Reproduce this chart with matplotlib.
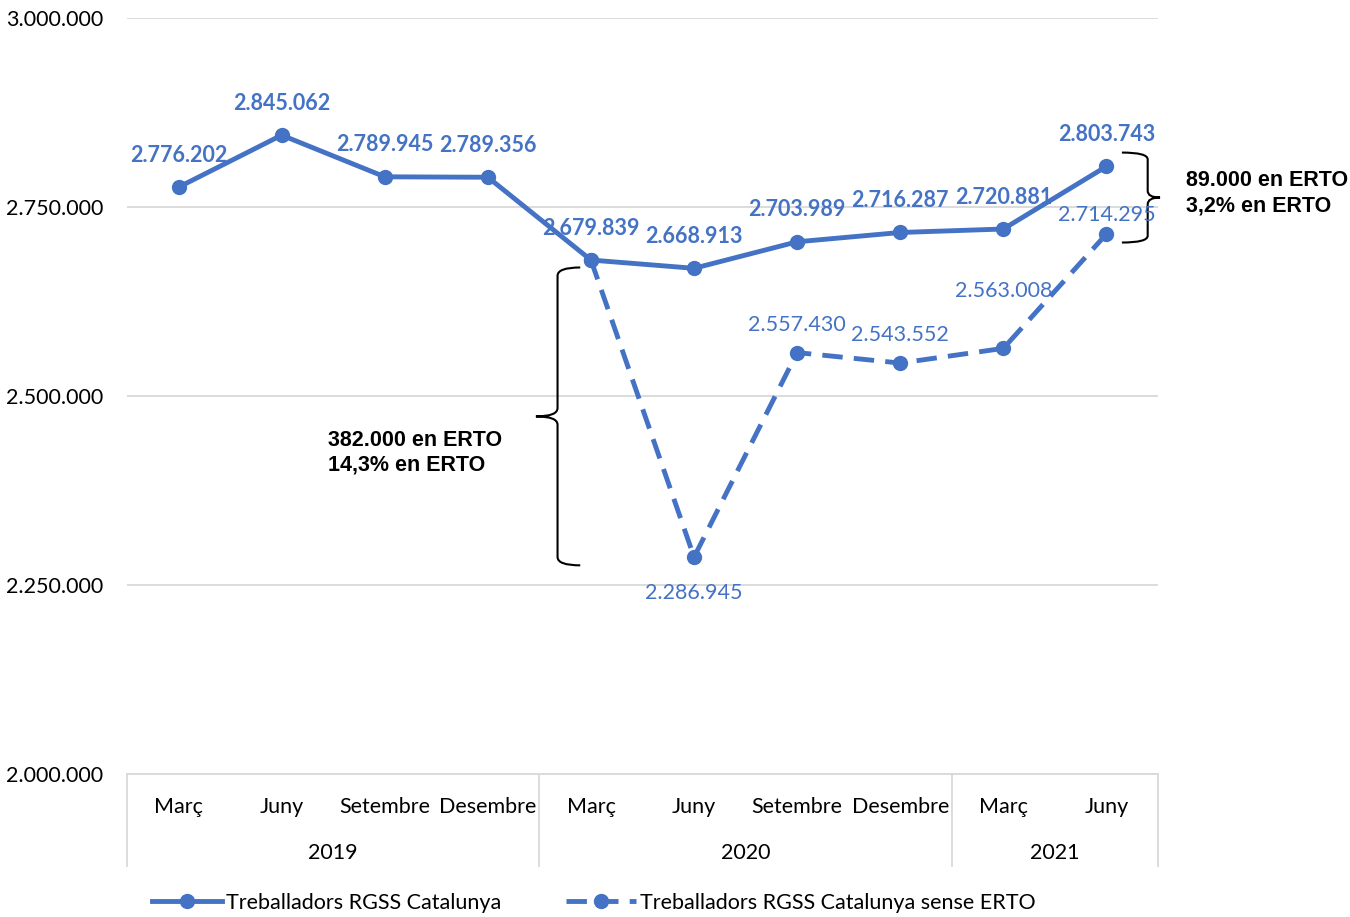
import matplotlib.pyplot as plt
from matplotlib.path import Path
from matplotlib.patches import PathPatch

plt.rcParams['font.family'] = ['Lato', 'DejaVu Sans']

# dades
mesos = ['Març', 'Juny', 'Setembre', 'Desembre', 'Març', 'Juny', 'Setembre', 'Desembre', 'Març', 'Juny']
anys = ['2019', '2020', '2021']
mesos_per_any = [4, 4, 2]
treballadors = [2776202, 2845062, 2789945, 2789356, 2679839, 2668913, 2703989, 2716287, 2720881, 2803743]
sense_erto_x = [4, 5, 6, 7, 8, 9]
sense_erto = [2679839, 2286945, 2557430, 2543552, 2563008, 2714295]

blau = '#4472C4'
gris = '#D9D9D9'
fs = 15.5


def fmt(v):
    return f'{v:,}'.replace(',', '.')


fig = plt.figure(figsize=(13.5, 9.17), dpi=100)
ax = fig.add_axes([127 / 1350, 1 - 774 / 917, (1158 - 127) / 1350, (774 - 18) / 917])

x = list(range(len(mesos)))
ax.plot(x, treballadors, color=blau, lw=3.5, marker='o', ms=10,
        label='Treballadors RGSS Catalunya', zorder=4)
ax.plot(sense_erto_x, sense_erto, color=blau, lw=3.5, ls=(0, (4.2, 2.3)), marker='o', ms=10,
        label='Treballadors RGSS Catalunya sense ERTO', zorder=3)

# etiquetes de dades
for xi, v in zip(x, treballadors):
    ax.annotate(fmt(v), (xi, v), xytext=(0, 23), textcoords='offset points',
                ha='center', va='center', color=blau, fontsize=fs, fontweight='bold', zorder=5)
desp = [None, -26, 20, 20, 41, 14]
for xi, v, d in zip(sense_erto_x, sense_erto, desp):
    if d is None:
        continue
    ax.annotate(fmt(v), (xi, v), xytext=(0, d), textcoords='offset points',
                ha='center', va='center', color=blau, fontsize=fs, zorder=5)

ax.set_xlim(-0.5, 9.5)
ax.set_ylim(2000000, 3000000)
ax.set_yticks([2000000, 2250000, 2500000, 2750000, 3000000])
ax.set_yticklabels([fmt(v) for v in ax.get_yticks().astype(int)], fontsize=fs)
ax.tick_params(axis='y', length=0, pad=17)
ax.grid(axis='y', color=gris, lw=1.3)
ax.set_axisbelow(True)
for s in ['top', 'right', 'left']:
    ax.spines[s].set_visible(False)
ax.spines['bottom'].set_color(gris)
ax.spines['bottom'].set_linewidth(1.3)

# eix de categories en dos nivells
ax.set_xticks([])
tr = ax.get_xaxis_transform()
for xi, m in zip(x, mesos):
    ax.text(xi, -0.0436, m, transform=tr, ha='center', va='center', fontsize=fs)
inici = 0
limits = [-0.5]
for a, n in zip(anys, mesos_per_any):
    ax.text(inici + (n - 1) / 2, -0.1045, a, transform=tr, ha='center', va='center', fontsize=fs)
    inici += n
    limits.append(inici - 0.5)
for b in limits:
    ax.plot([b, b], [0, -0.1217], transform=tr, color=gris, lw=1.3, clip_on=False)


# claus
def clau(ax, xc, y0, y1, w, punta, r, dreta=True, **kw):
    # xc: línia vertical; w: amplada de les puntes; punta: sortida central; r: radi de les corbes
    s = 1 if dreta else -1
    ym = (y0 + y1) / 2
    verts = [(xc + s * w, y1), (xc, y1), (xc, y1 - r),
             (xc, ym + r), (xc, ym), (xc - s * punta, ym),
             (xc, ym), (xc, ym - r),
             (xc, y0 + r), (xc, y0), (xc + s * w, y0)]
    codes = [Path.MOVETO, Path.CURVE3, Path.CURVE3,
             Path.LINETO, Path.CURVE3, Path.CURVE3,
             Path.CURVE3, Path.CURVE3,
             Path.LINETO, Path.CURVE3, Path.CURVE3]
    ax.add_patch(PathPatch(Path(verts, codes), fill=False, clip_on=False, **kw))


clau(ax, 3.676, 2276000, 2670000, 0.22, 0.21, 11000, dreta=True, color='black', lw=1.5)
clau(ax, 9.4, 2703000, 2822000, 0.25, 0.12, 9000, dreta=False, color='black', lw=1.5)

ax.text(1.445, 2425000, '382.000 en ERTO\n14,3% en ERTO', family=['Liberation Sans', 'DejaVu Sans'],
        fontsize=fs, fontweight='bold', va='center', ha='left', linespacing=1.25)
ax.text(9.767, 2768000, '89.000 en ERTO\n3,2% en ERTO', family=['Liberation Sans', 'DejaVu Sans'],
        fontsize=fs, fontweight='bold', va='center', ha='left', linespacing=1.25)

fig.legend(loc='center', bbox_to_anchor=(594 / 1350, 1 - 903 / 917), ncol=2, frameon=False,
           fontsize=fs, handlelength=3.25, columnspacing=3.0, handletextpad=0.2)

fig.savefig('out.png', dpi=100)
